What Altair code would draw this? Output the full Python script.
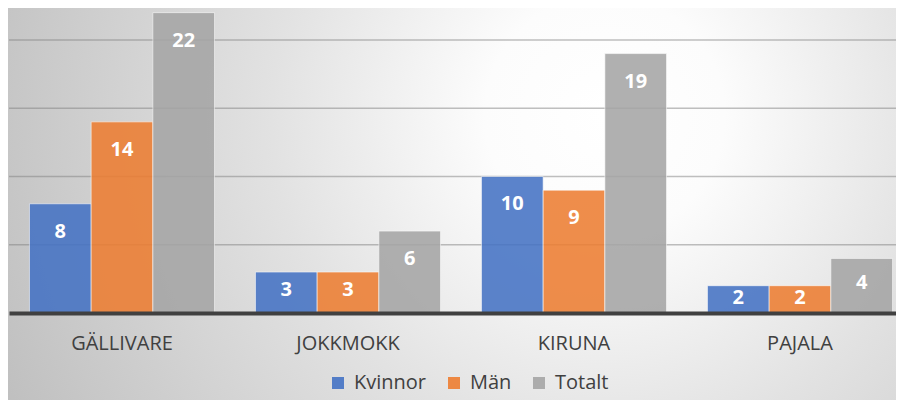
import altair as alt
import pandas as pd

categories = ["GÄLLIVARE", "JOKKMOKK", "KIRUNA", "PAJALA"]
series = ["Kvinnor", "Män", "Totalt"]
kvinnor = [8, 3, 10, 2]
man = [14, 3, 9, 2]
totalt = [22, 6, 19, 4]
colors = ["#4472C4", "#ED7D31", "#A5A5A5"]
grid_values = [5, 10, 15, 20]

rows = []
for i, c in enumerate(categories):
    for s, vals in zip(series, [kvinnor, man, totalt]):
        rows.append({"kommun": c, "kon": s, "antal": vals[i]})
df = pd.DataFrame(rows)

W, H = 887, 305
CANVAS_H = 392

x_scale = alt.Scale(domain=categories, range=[0, 904], paddingInner=0.181, paddingOuter=0.0905)
y_scale = alt.Scale(domain=[0, 22.34], nice=False, zero=True)
xoff_scale = alt.Scale(domain=series, paddingInner=0, paddingOuter=0)
color_scale = alt.Scale(domain=series, range=colors)

gradient = {
    "gradient": "radial",
    "x1": 0.672, "y1": 0.40, "r1": 0,
    "x2": 0.672, "y2": 0.40, "r2": 0.75,
    "stops": [
        {"offset": 0.0, "color": "#ffffff"},
        {"offset": 0.18, "color": "#fcfcfc"},
        {"offset": 0.5, "color": "#e2e2e2"},
        {"offset": 1.0, "color": "#bfbfbf"},
    ],
}

bg = alt.Chart(pd.DataFrame({"d": [0]})).mark_rect(fill=gradient).encode(
    x=alt.value(-1), x2=alt.value(W), y=alt.value(0), y2=alt.value(CANVAS_H)
)

grid = alt.Chart(pd.DataFrame({"v": grid_values})).mark_rule(
    color="#7f7f7f", strokeOpacity=0.5, strokeWidth=1.5
).encode(y=alt.Y("v:Q", scale=y_scale, axis=None))

x_enc = alt.X(
    "kommun:N", scale=x_scale, sort=categories,
    axis=alt.Axis(
        title=None, labelAngle=0, labelFont="Open Sans", labelFontSize=20,
        labelColor="#404040", labelPadding=20, ticks=False, domainColor="#404040",
        domainWidth=4, grid=False, zindex=1,
    ),
)
xoff_enc = alt.XOffset("kon:N", scale=xoff_scale, sort=series)

bars = alt.Chart(df).mark_bar(
    opacity=0.87, stroke="#ffffff", strokeWidth=1, strokeOpacity=0.6
).encode(
    x=x_enc,
    xOffset=xoff_enc,
    y=alt.Y("antal:Q", scale=y_scale, axis=None),
    color=alt.Color(
        "kon:N", scale=color_scale, sort=series,
        legend=alt.Legend(
            title=None, orient="none", legendX=319, legendY=365, direction="horizontal",
            symbolType="square", symbolSize=144, symbolStrokeWidth=0, symbolOpacity=0.9,
            labelFont="Open Sans", labelFontSize=20, labelColor="#404040",
            columnPadding=17, labelOffset=6,
        ),
    ),
)

text = alt.Chart(df).transform_calculate(
    ly="max(datum.antal - 2.05, datum.antal * 0.55)"
).mark_text(
    font="Open Sans", fontSize=20, fontWeight="bold", color="#ffffff", baseline="middle"
).encode(
    x=x_enc,
    xOffset=xoff_enc,
    y=alt.Y("ly:Q", scale=y_scale, axis=None),
    text="antal:Q",
)

chart = alt.layer(bg, grid, bars, text).properties(
    width=W, height=H,
    autosize=alt.AutoSizeParams(type="none"),
    padding={"left": 1, "top": 0, "right": 0, "bottom": CANVAS_H - H},
).configure_view(strokeWidth=0)

chart.save("out.html", embed_options={"renderer": "svg", "actions": False})
